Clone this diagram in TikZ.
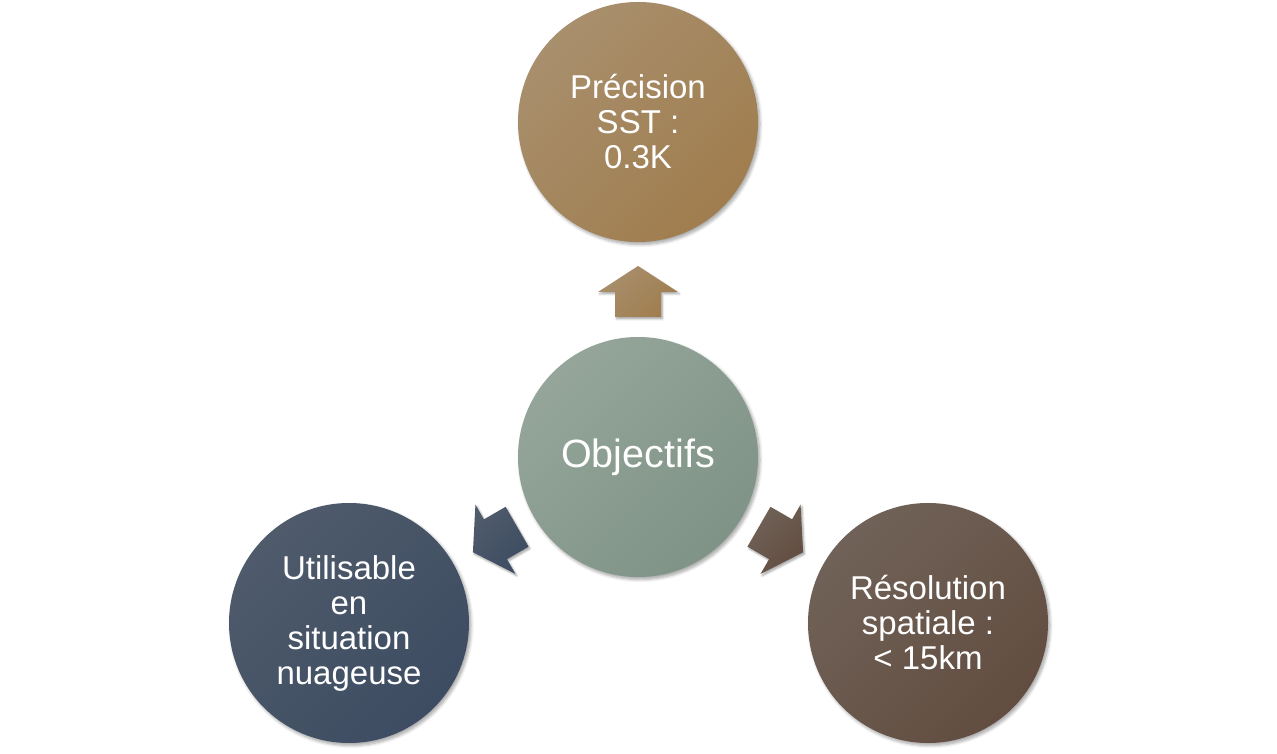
\documentclass[tikz,border=0pt]{standalone}
\usepackage{fontspec}
\setmainfont{Liberation Sans}
\usetikzlibrary{shadows.blur}
\definecolor{tanA}{HTML}{A88F6D}
\definecolor{tanB}{HTML}{AD8B5C}
\definecolor{tanC}{HTML}{A07D4E}
\definecolor{sageA}{HTML}{95A59A}
\definecolor{sageB}{HTML}{90A296}
\definecolor{sageC}{HTML}{7F9386}
\definecolor{slateA}{HTML}{4F5B6B}
\definecolor{slateB}{HTML}{4A5769}
\definecolor{slateC}{HTML}{3D4C62}
\definecolor{brownA}{HTML}{706258}
\definecolor{brownB}{HTML}{6E5D52}
\definecolor{brownC}{HTML}{624D40}
\tikzset{
  bubble/.style={circle, minimum size=240pt, inner sep=0pt, align=center,
    text=white, font=\fontsize{33}{35}\selectfont,
    blur shadow={shadow xshift=2pt, shadow yshift=-2.5pt, shadow blur steps=6, shadow opacity=35, shadow blur radius=3pt}},
  blockarrow/.style={blur shadow={shadow xshift=1.5pt, shadow yshift=-2pt, shadow blur steps=5, shadow opacity=35, shadow blur radius=2pt}},
  tanfill/.style={top color=tanA, middle color=tanB, bottom color=tanC, shading angle=45},
  sagefill/.style={top color=sageA, middle color=sageB, bottom color=sageC, shading angle=45},
  slatefill/.style={top color=slateA, middle color=slateB, bottom color=slateC, shading angle=45},
  brownfill/.style={top color=brownA, middle color=brownB, bottom color=brownC, shading angle=45},
}
\newcommand{\blockarrowpath}{(-25.5,-23) -- (-0.5,-23) -- (-0.5,-40) -- (25.5,0) -- (-0.5,40) -- (-0.5,23) -- (-25.5,23) -- cycle}
\begin{document}
\begin{tikzpicture}[x=1pt,y=1pt]
\useasboundingbox (0,0) rectangle (1277,753);
% arrows
\begin{scope}[shift={(638,461.5)}, rotate=90]
  \path[blockarrow, tanfill] \blockarrowpath;
\end{scope}
\begin{scope}[shift={(495,213.5)}, rotate=210]
  \path[blockarrow, slatefill] \blockarrowpath;
\end{scope}
\begin{scope}[shift={(781,213.5)}, rotate=330]
  \path[blockarrow, brownfill] \blockarrowpath;
\end{scope}
% circles
\node[bubble, sagefill, font=\fontsize{39.5}{44}\selectfont] (obj) at (638,296) {Objectifs};
\node[bubble, tanfill] (prec) at (638,631) {Précision\\SST :\\0.3K};
\node[bubble, slatefill] (util) at (349,130) {Utilisable\\en\\situation\\nuageuse};
\node[bubble, brownfill] (reso) at (928,130) {Résolution\\spatiale :\\< 15km};
\end{tikzpicture}
\end{document}
